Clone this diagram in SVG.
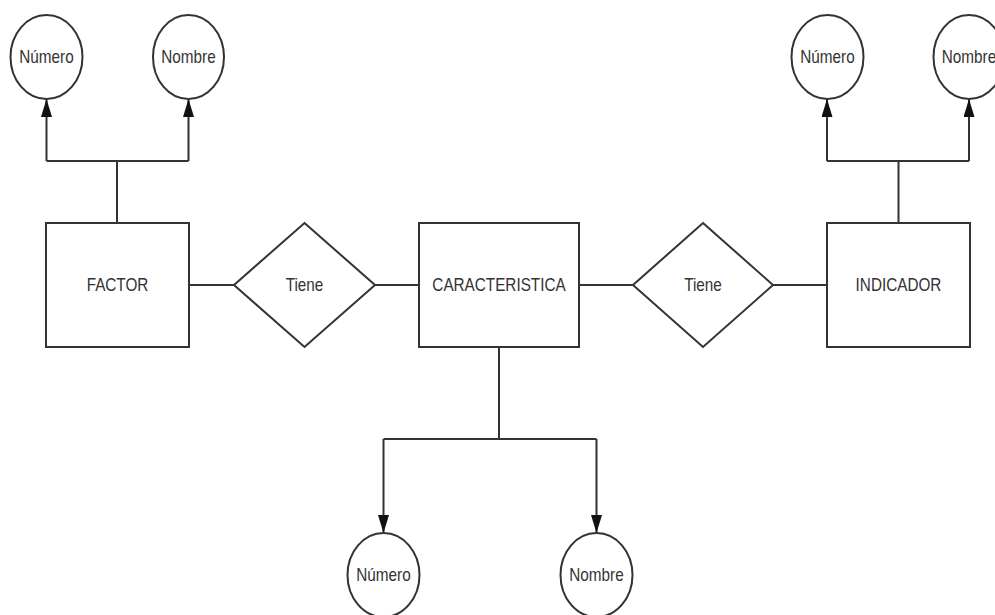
<svg xmlns="http://www.w3.org/2000/svg" width="995" height="615" viewBox="0 0 995 615">
<style>
.shape{fill:#fff;stroke:#333;stroke-width:2}
.conn{fill:none;stroke:#333;stroke-width:2}
.lbl{font-family:"Liberation Sans",Arial,sans-serif;font-size:18px;fill:#333;text-anchor:middle}
</style>
<defs>
<marker id="arr" markerUnits="userSpaceOnUse" markerWidth="18" markerHeight="11" refX="18" refY="5.5" orient="auto">
<path d="M0,0 L18,5.5 L0,11 Z" fill="#111"/>
</marker>
</defs>
<rect width="995" height="615" fill="#fff"/>
<g id="connectors">
<path class="conn" d="M117,223 V161 M46.5,161 H188.5"/>
<path class="conn" d="M46.5,161 V99" marker-end="url(#arr)"/>
<path class="conn" d="M188.5,161 V99" marker-end="url(#arr)"/>
<path class="conn" d="M898.5,223 V161 M827,161 H969"/>
<path class="conn" d="M827,161 V99" marker-end="url(#arr)"/>
<path class="conn" d="M969,161 V99" marker-end="url(#arr)"/>
<path class="conn" d="M499,347 V439 M383.5,439 H596.5"/>
<path class="conn" d="M383.5,439 V533" marker-end="url(#arr)"/>
<path class="conn" d="M596.5,439 V533" marker-end="url(#arr)"/>
<path class="conn" d="M189,285 H234 M375,285 H419"/>
<path class="conn" d="M579,285 H633 M773,285 H827"/>
</g>
<g id="factor">
<rect class="shape" x="46" y="223" width="143" height="124"/>
<text class="lbl" transform="translate(117.5,291) scale(0.85,1)">FACTOR</text>
</g>
<g id="tiene1">
<polygon class="shape" points="304.5,223 375,285 304.5,347 234,285"/>
<text class="lbl" transform="translate(304.5,291) scale(0.85,1)">Tiene</text>
</g>
<g id="caracteristica">
<rect class="shape" x="419" y="223" width="160" height="124"/>
<text class="lbl" transform="translate(499,291) scale(0.85,1)">CARACTERISTICA</text>
</g>
<g id="tiene2">
<polygon class="shape" points="703,223 773,285 703,347 633,285"/>
<text class="lbl" transform="translate(703,291) scale(0.85,1)">Tiene</text>
</g>
<g id="indicador">
<rect class="shape" x="827" y="223" width="143" height="124"/>
<text class="lbl" transform="translate(898.5,291) scale(0.85,1)">INDICADOR</text>
</g>
<g id="factor-numero">
<ellipse class="shape" cx="46.5" cy="57" rx="36" ry="42"/>
<text class="lbl" transform="translate(46.5,63) scale(0.85,1)">Número</text>
</g>
<g id="factor-nombre">
<ellipse class="shape" cx="188.5" cy="57" rx="35.5" ry="42"/>
<text class="lbl" transform="translate(188.5,63) scale(0.85,1)">Nombre</text>
</g>
<g id="indicador-numero">
<ellipse class="shape" cx="827.5" cy="57" rx="36" ry="42"/>
<text class="lbl" transform="translate(827.5,63) scale(0.85,1)">Número</text>
</g>
<g id="indicador-nombre">
<ellipse class="shape" cx="969" cy="57" rx="35.5" ry="42"/>
<text class="lbl" transform="translate(969,63) scale(0.85,1)">Nombre</text>
</g>
<g id="caract-numero">
<ellipse class="shape" cx="383.5" cy="575" rx="36" ry="42"/>
<text class="lbl" transform="translate(383.5,581) scale(0.85,1)">Número</text>
</g>
<g id="caract-nombre">
<ellipse class="shape" cx="596.5" cy="575" rx="36" ry="42"/>
<text class="lbl" transform="translate(596.5,581) scale(0.85,1)">Nombre</text>
</g>
</svg>
